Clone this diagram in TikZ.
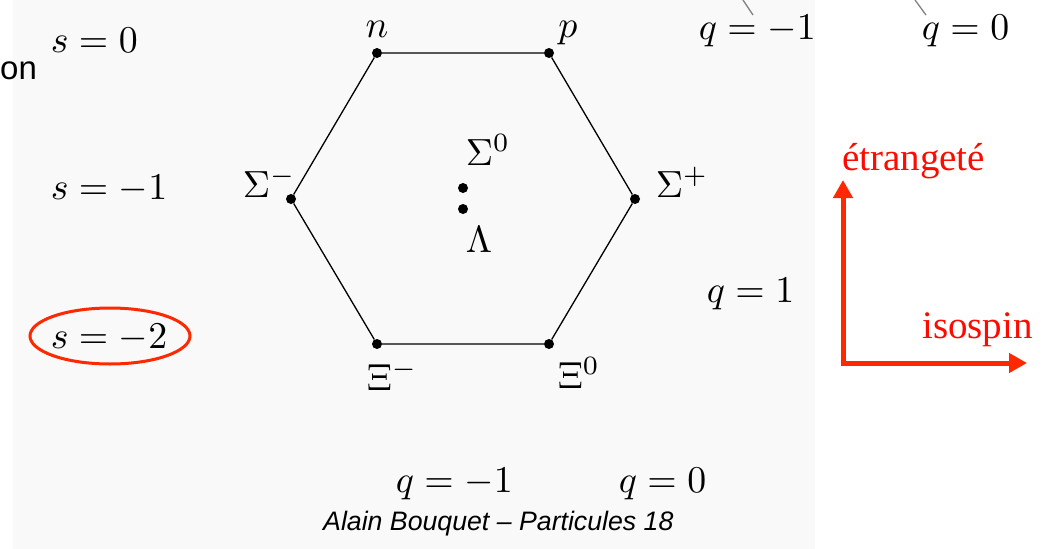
\documentclass[tikz,border=0pt]{standalone}
\usepackage{fontspec}
\newfontfamily\arialf{Liberation Sans}
\newfontfamily\timesf{Liberation Serif}
\usetikzlibrary{arrows.meta}
\definecolor{bg}{RGB}{249,249,249}
\definecolor{axred}{RGB}{255,40,0}
\definecolor{txtred}{RGB}{255,10,0}
\definecolor{tickgray}{RGB}{130,130,130}
\tikzset{
  lab/.style={inner sep=0pt, scale=3.78},
  ptdot/.style={circle, fill=black, inner sep=0pt, minimum size=10pt},
  hexedge/.style={line width=1.3pt, black},
  redlab/.style={inner sep=0pt, text=txtred, font=\timesf\fontsize{39}{42}\selectfont},
  axis/.style={line width=5pt, axred, line join=miter,
    {Triangle[length=18pt,width=19pt]}-{Triangle[length=18pt,width=19pt]}},
  ticks/.style={line width=1.3pt, tickgray}
}
\begin{document}
\begin{tikzpicture}[x=1pt,y=-1pt]
\useasboundingbox (0,0) rectangle (1045,549);
\fill[bg] (13,0) rectangle (815,549);

% cut-off text on the left
\node[inner sep=0pt, anchor=base west, font=\arialf\fontsize{33}{36}\selectfont] (on) at (0,79) {on};

% particles
\node[ptdot] (n) at (377,53) {};
\node[ptdot] (p) at (549,53) {};
\node[ptdot] (sm) at (291,199) {};
\node[ptdot] (sp) at (635,199) {};
\node[ptdot] (xm) at (377,344) {};
\node[ptdot] (x0) at (549,344) {};
\node[ptdot] (s0) at (463,188) {};
\node[ptdot] (la) at (463,209) {};
\draw[hexedge] (n) -- (p) -- (sp) -- (x0) -- (xm) -- (sm) -- (n);

% particle labels
\node[lab, anchor=base] (ln) at (377,37) {$n$};
\node[lab, anchor=base] (lp) at (568,37) {$p$};
\node[lab, anchor=base west] (ls0) at (465,165) {$\Sigma^0$};
\node[lab, anchor=base west] (lla) at (465,252) {$\Lambda$};
\node[lab, anchor=base west] (lsm) at (242,197) {$\Sigma^-$};
\node[lab, anchor=base west] (lsp) at (655,197) {$\Sigma^+$};
\node[lab, anchor=base west] (lxm) at (366,390) {$\Xi^-$};
\node[lab, anchor=base west] (lx0) at (557,388) {$\Xi^0$};

% strangeness labels
\node[lab, anchor=base west] (s0l) at (50,52) {$s=0$};
\node[lab, anchor=base west] (s1l) at (50,199) {$s=-1$};
\node[lab, anchor=base west] (s2l) at (50,348) {$s=-2$};
\draw[axred, line width=3pt] (110,336) ellipse [x radius=80, y radius=28];

% charge labels
\node[lab, anchor=base west] (q1) at (706,302) {$q=1$};
\node[lab, anchor=base west] (qm1top) at (698,39) {$q=-1$};
\node[lab, anchor=base west] (q0top) at (921,39) {$q=0$};
\node[lab, anchor=base west] (qm1bot) at (395,492) {$q=-1$};
\node[lab, anchor=base west] (q0bot) at (618,492) {$q=0$};

% small grey strokes at the top
\coordinate (t1a) at (743,0);
\coordinate (t1b) at (753,15);
\coordinate (t2a) at (915,0);
\coordinate (t2b) at (926,15);
\draw[ticks] (t1a) -- (t1b);
\draw[ticks] (t2a) -- (t2b);

% credit
\node[inner sep=0pt, anchor=base west, font=\arialf\itshape\fontsize{26.7}{30}\selectfont] (credit) at (323,530) {Alain Bouquet – Particules 18};

% red axes
\coordinate (corner) at (843,363);
\coordinate (xtip) at (1027,363);
\coordinate (ytip) at (843,180);
\draw[axis] (xtip) -- (corner) -- (ytip);
\node[redlab, anchor=base west] (etr) at (842,170) {étrangeté};
\node[redlab, anchor=base west] (iso) at (922,338) {isospin};
\end{tikzpicture}
\end{document}
